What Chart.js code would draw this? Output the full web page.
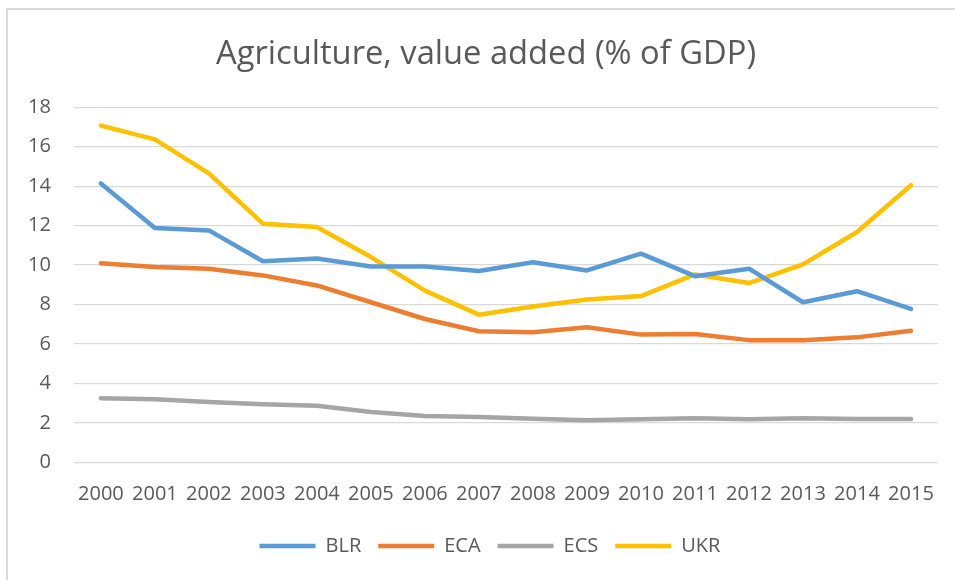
<!DOCTYPE html>
<html>
<head>
<meta charset="utf-8">
<script src="https://cdn.jsdelivr.net/npm/chart.js@4"></script>
<style>
  html, body { margin: 0; padding: 0; background: #ffffff; }
  #frame {
    position: absolute; left: 6px; top: 8px; width: 970px; height: 590px;
    border: 2px solid #d9d9d9; box-sizing: border-box;
  }
  #wrap { position: absolute; left: 0; top: 0; width: 955px; height: 580px; }
</style>
</head>
<body>
<div id="frame"></div>
<div id="wrap"><canvas id="chart" width="955" height="580"></canvas></div>
<script>
// Agriculture, value added (% of GDP), 2000-2015
const years = ['2000','2001','2002','2003','2004','2005','2006','2007',
               '2008','2009','2010','2011','2012','2013','2014','2015'];
const blr = [14.14, 11.88, 11.76, 10.20, 10.34, 9.93, 9.93, 9.70,
             10.15, 9.73, 10.58, 9.44, 9.82, 8.12, 8.68, 7.78];
const eca = [10.09, 9.90, 9.82, 9.48, 8.97, 8.12, 7.27, 6.65,
             6.60, 6.85, 6.48, 6.51, 6.20, 6.20, 6.34, 6.68];
const ecs = [3.26, 3.20, 3.07, 2.95, 2.87, 2.56, 2.36, 2.31,
             2.22, 2.14, 2.19, 2.24, 2.19, 2.24, 2.20, 2.20];
const ukr = [17.07, 16.37, 14.65, 12.10, 11.93, 10.41, 8.71, 7.49,
             7.90, 8.26, 8.43, 9.53, 9.09, 10.04, 11.68, 14.05];

const seriesNames = ['BLR', 'ECA', 'ECS', 'UKR'];
const seriesColors = ['#5b9bd5', '#ed7d31', '#a5a5a5', '#ffc000'];
const seriesValues = [blr, eca, ecs, ukr];

const textColor = '#595959';
const fontFamily = '"Open Sans", "Liberation Sans", sans-serif';

// Nudge the title and legend blocks after layout so they sit centred
// over the plot rather than over the whole canvas.
const blockOffsets = {
  id: 'blockOffsets',
  afterLayout(chart) {
    const t = chart.titleBlock;
    t.left += 14.5; t.right += 14.5;
    const l = chart.legend;
    l.left += 18.5; l.right += 18.5;
    l.top -= 7.5; l.bottom -= 7.5;
  }
};

new Chart(document.getElementById('chart'), {
  type: 'line',
  data: {
    labels: years,
    datasets: seriesNames.map((name, i) => ({
      label: name,
      data: seriesValues[i],
      borderColor: seriesColors[i],
      backgroundColor: seriesColors[i],
      borderWidth: 4.5,
      borderCapStyle: 'round',
      borderJoinStyle: 'round',
      pointRadius: 0,
      pointHoverRadius: 0,
      tension: 0,
      fill: false
    }))
  },
  plugins: [blockOffsets],
  options: {
    responsive: false,
    animation: false,
    devicePixelRatio: 1,
    layout: { padding: { left: 5, right: 17, top: 0, bottom: 6.5 } },
    plugins: {
      title: {
        display: true,
        text: 'Agriculture, value added (% of GDP)',
        color: textColor,
        font: { family: fontFamily, size: 32.7, weight: 'normal', lineHeight: 1.2 },
        padding: { top: 35, bottom: 33 }
      },
      legend: {
        position: 'bottom',
        labels: {
          color: textColor,
          font: { family: fontFamily, size: 20 },
          usePointStyle: true,
          pointStyle: 'line',
          pointStyleWidth: 56,
          boxHeight: 20,
          padding: 17
        }
      },
      tooltip: { enabled: false }
    },
    scales: {
      x: {
        offset: true,
        grid: { display: false, drawTicks: false },
        border: { display: false },
        ticks: {
          color: textColor,
          font: { family: fontFamily, size: 20 },
          padding: 20,
          maxRotation: 0,
          autoSkip: false
        }
      },
      y: {
        min: 0,
        max: 18,
        grid: { color: '#d9d9d9', lineWidth: 1.3, drawTicks: false },
        border: { display: false },
        ticks: {
          stepSize: 2,
          color: textColor,
          font: { family: fontFamily, size: 20 },
          padding: 23
        }
      }
    }
  }
});
</script>
</body>
</html>
